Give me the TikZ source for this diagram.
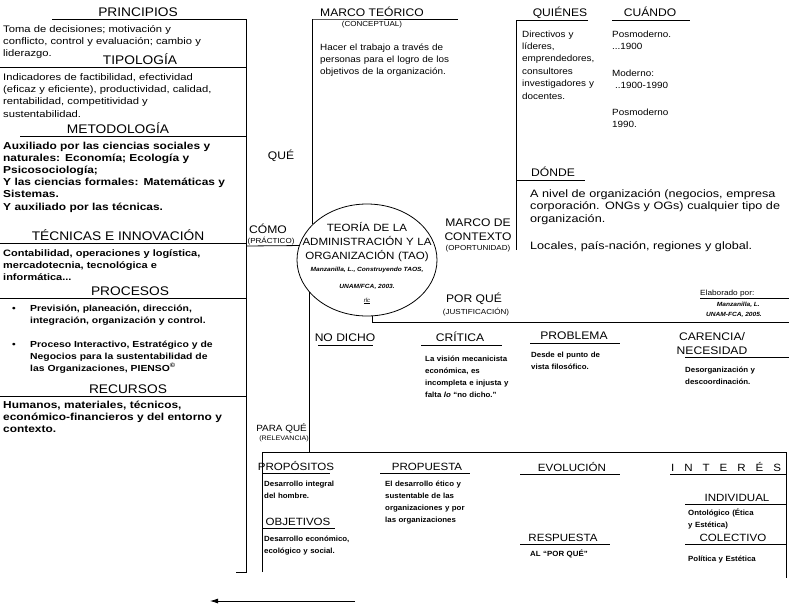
\documentclass[tikz,border=0pt]{standalone}
\usepackage{fontspec}
\setmainfont{Liberation Sans}
\newfontfamily\hdrfont[FakeStretch=1.1]{Liberation Sans}
\newfontfamily\bodyfont[FakeStretch=1.1]{Liberation Sans}
\newfontfamily\widefont[FakeStretch=1.18]{Liberation Sans}
\newfontfamily\lowfont[FakeStretch=1.05]{Liberation Sans}
\usetikzlibrary{shapes.geometric,arrows.meta}
\tikzset{
  hdr/.style={font=\hdrfont\fontsize{11}{13}\selectfont, inner sep=0pt, anchor=base},
  lhdr/.style={font=\hdrfont\fontsize{12.5}{14}\selectfont, inner sep=0pt, anchor=base},
  bhdr/.style={font=\hdrfont\fontsize{10.5}{13}\selectfont, inner sep=0pt, anchor=base},
  sub/.style={font=\hdrfont\fontsize{7.3}{8}\selectfont, inner sep=0pt, anchor=base},
  txt/.style={font=\bodyfont\fontsize{9}{12.4}\selectfont, align=left, text width=260pt, inner sep=0pt, anchor=base west},
  wtxt/.style={font=\widefont\fontsize{9.5}{12.4}\selectfont, align=left, text width=260pt, inner sep=0pt, anchor=base west},
  wbtxt/.style={font=\widefont\bfseries\fontsize{8.8}{12.2}\selectfont, align=left, text width=260pt, inner sep=0pt, anchor=base west},
  btxt/.style={font=\lowfont\bfseries\fontsize{7.5}{12.2}\selectfont, align=left, text width=260pt, inner sep=0pt, anchor=base west},
  cite/.style={font=\bodyfont\bfseries\itshape\fontsize{6}{8}\selectfont, inner sep=0pt, anchor=base},
  rule/.style={line width=0.8pt},
}
\begin{document}
\begin{tikzpicture}[x=1pt,y=-1pt]
\useasboundingbox (0,0) rectangle (789,613);
% ---------------- left column
\node[lhdr] (principios) at (138,16.5) {PRINCIPIOS};
\node[wtxt] (principiosT) at (3,32) {Toma de decisiones; motivación y\\conflicto, control y evaluación; cambio y\\liderazgo.};
\node[lhdr] (tipologia) at (140,64.5) {TIPOLOGÍA};
\node[wtxt] (tipologiaT) at (3,80) {Indicadores de factibilidad, efectividad\\(eficaz y eficiente), productividad, calidad,\\rentabilidad, competitividad y\\sustentabilidad.};
\node[lhdr] (metodologia) at (118,133.5) {METODOLOGÍA};
\node[wbtxt, font=\widefont\bfseries\fontsize{10.1}{12.2}\selectfont] (metodologiaT) at (3,149) {Auxiliado por las ciencias sociales y\\naturales: Economía; Ecología y\\Psicosociología;\\Y las ciencias formales: Matemáticas y\\Sistemas.\\Y auxiliado por las técnicas.};
\node[lhdr] (tecnicas) at (118,240.5) {TÉCNICAS E INNOVACIÓN};
\node[wbtxt, font=\widefont\bfseries\fontsize{9.3}{12.2}\selectfont] (tecnicasT) at (3,256) {Contabilidad, operaciones y logística,\\mercadotecnia, tecnológica e\\informática...};
\node[lhdr] (procesos) at (130,295.5) {PROCESOS};
\node[wbtxt, text width=20pt] (bulA) at (12,311) {\textbullet};
\node[wbtxt] (procA) at (30,311) {Previsión, planeación, dirección,\\integración, organización y control.};
\node[wbtxt, text width=20pt] (bulB) at (12,347) {\textbullet};
\node[wbtxt] (procB) at (30,347) {Proceso Interactivo, Estratégico y de\\Negocios para la sustentabilidad de\\las Organizaciones, PIENSO\textsuperscript{©}};
\node[lhdr] (recursos) at (128,393.5) {RECURSOS};
\node[wbtxt, font=\widefont\bfseries\fontsize{10.1}{12.2}\selectfont] (recursosT) at (3,408) {Humanos, materiales, técnicos,\\económico-financieros y del entorno y\\contexto.};
\draw[rule] (52,19) -- (246,19) -- (246,572) -- (236,572);
\draw[rule] (0,67) -- (246,67);
\draw[rule] (20,136) -- (246,136);
\draw[rule] (0,243) -- (246,243);
\draw[rule] (0,298) -- (246,298);
\draw[rule] (0,396) -- (246,396);
% ---------------- central ellipse
\node[draw, ellipse, rule, minimum width=140pt, minimum height=112pt, inner sep=0pt] (tao) at (367,260) {};
\node[font=\hdrfont\fontsize{10.5}{14}\selectfont, align=center, text width=150pt, inner sep=0pt, anchor=base] (taoT) at (367,231) {TEORÍA DE LA\\ADMINISTRACIÓN Y LA\\ORGANIZACIÓN (TAO)};
\node[cite] (citeA) at (367,271) {Manzanilla, L., Construyendo TAOS,};
\node[cite] (citeB) at (367,288) {UNAM/FCA, 2003.};
\node[font=\itshape\fontsize{6}{7}\selectfont, inner sep=0pt, anchor=base] (sig) at (367,302) {\underline{rlc}};
% CÓMO
\node[hdr] (como) at (268,233.5) {CÓMO};
\node[sub] (practico) at (271,243) {(PRÁCTICO)};
\draw[rule] (246,246) -- (tao.168);
% QUÉ / MARCO TEÓRICO
\node[hdr] (que) at (281,159.5) {QUÉ};
\node[hdr] (marcoT) at (372,16.5) {MARCO TEÓRICO};
\node[sub] (conceptual) at (372,26) {(CONCEPTUAL)};
\node[txt] (marcoTT) at (320,50) {\makebox[135pt][s]{Hacer el trabajo a través de}\\\makebox[135pt][s]{personas para el logro de los}\\objetivos de la organización.};
\draw[rule] (458,19) -- (312,19) -- (tao.147.5 |- 0,19) -- (tao.147.5);
% QUIÉNES / CUÁNDO / DÓNDE
\node[hdr] (quienes) at (560,16.5) {QUIÉNES};
\node[hdr] (cuando) at (650,16.5) {CUÁNDO};
\node[txt] (quienesT) at (522,37) {Directivos y\\líderes,\\emprendedores,\\consultores\\investigadores y\\docentes.};
\node[txt] (cuandoA) at (612,37) {Posmoderno.\\...1900};
\node[txt] (cuandoB) at (612,76) {Moderno:\\\ ..1900-1990};
\node[txt] (cuandoC) at (612,115) {Posmoderno\\1990.};
\node[hdr] (donde) at (553,176.5) {DÓNDE};
\node[wtxt, font=\widefont\fontsize{10.7}{12.5}\selectfont] (dondeT) at (530,197) {A nivel de organización (negocios, empresa\\corporación. ONGs y OGs) cualquier tipo de\\organización.};
\node[wtxt, font=\widefont\fontsize{10.7}{12.5}\selectfont] (dondeU) at (530,249) {Locales, país-nación, regiones y global.};
\draw[rule] (588,20) -- (516,20) -- (516,250);
\draw[rule] (612,20) -- (690,20);
\draw[rule] (516,180) -- (585,180);
% MARCO DE CONTEXTO
\node[hdr] (marcoC) at (478,226.5) {MARCO DE};
\node[hdr] (contexto) at (478,240.5) {CONTEXTO};
\node[sub] (oportunidad) at (478,250) {(OPORTUNIDAD)};
% POR QUÉ
\node[hdr] (porque) at (474,302.5) {POR QUÉ};
\node[sub] (justif) at (476,314) {(JUSTIFICACIÓN)};
\draw[rule] (tao.275) -- (tao.275 |- 0,322) -- (789,322);
\node[font=\bodyfont\fontsize{7.5}{9}\selectfont, inner sep=0pt, anchor=base west] (elab) at (700,295) {Elaborado por:};
\node[cite, anchor=base east] (elabA) at (760,306) {Manzanilla, L.};
\node[cite, anchor=base east] (elabB) at (762,316) {UNAM-FCA, 2005.};
\draw[rule] (700,298) -- (789,298);
% NO DICHO / CRÍTICA / PROBLEMA / CARENCIA
\node[hdr] (nodicho) at (345,341.5) {NO DICHO};
\node[hdr] (critica) at (460,341.5) {CRÍTICA};
\node[btxt] (criticaT) at (425,361) {La visión mecanicista\\económica, es\\incompleta e injusta y\\falta \textit{lo} “no dicho.”};
\node[hdr] (problema) at (574,339.5) {PROBLEMA};
\node[btxt] (problemaT) at (531,357) {Desde el punto de\\vista filosófico.};
\node[hdr] (carencia) at (712,340.5) {CARENCIA/};
\node[hdr] (necesidad) at (712,354.5) {NECESIDAD};
\node[btxt] (carenciaT) at (685,372) {Desorganización y\\descoordinación.};
\draw[rule] (318,345) -- (373,345);
\draw[rule] (421,345) -- (502,345);
\draw[rule] (530,343) -- (620,343);
\draw[rule] (685,357) -- (789,357);
% PARA QUÉ
\node[bhdr, font=\hdrfont\fontsize{9}{11}\selectfont, anchor=base east] (paraque) at (307,431.5) {PARA QUÉ};
\node[sub, font=\hdrfont\fontsize{6.5}{8}\selectfont, anchor=base east] (relevancia) at (309,440) {(RELEVANCIA)};
\draw[rule] (tao.209.7) -- (tao.209.7 |- 0,452);
\draw[rule] (262,572) -- (262,452) -- (786,452) -- (786,578);
% bottom box
\node[bhdr] (propositos) at (296,470.5) {PROPÓSITOS};
\node[btxt] (propositosT) at (264,486) {Desarrollo integral\\del hombre.};
\node[bhdr] (objetivos) at (298,525.5) {OBJETIVOS};
\node[btxt] (objetivosT) at (264,541) {Desarrollo económico,\\ecológico y social.};
\node[bhdr] (propuesta) at (427,470.5) {PROPUESTA};
\node[btxt] (propuestaT) at (385,486) {El desarrollo ético y\\sustentable de las\\organizaciones y por\\las organizaciones};
\node[bhdr] (evolucion) at (572,471.5) {EVOLUCIÓN};
\node[bhdr] (respuesta) at (563,541.5) {RESPUESTA};
\node[btxt] (respuestaT) at (530,556) {AL “POR QUÉ”};
\node[bhdr, anchor=base west] (interes) at (671,471.5) {\addfontfeature{LetterSpace=95}INTERÉS};
\node[bhdr] (individual) at (737,501.5) {INDIVIDUAL};
\node[btxt] (individualT) at (688,515) {Ontológico (Ética\\y Estética)};
\node[bhdr] (colectivo) at (733,541.5) {COLECTIVO};
\node[btxt] (colectivoT) at (688,561) {Política y Estética};
\draw[rule] (262,473) -- (330,473);
\draw[rule] (262,528) -- (335,528);
\draw[rule] (380,473) -- (470,473);
\draw[rule] (520,474) -- (620,474);
\draw[rule] (520,544) -- (610,544);
\draw[rule] (670,474) -- (786,474);
\draw[rule] (685,504) -- (786,504);
\draw[rule] (685,544) -- (786,544);
% arrow
\coordinate (arrS) at (355,601);
\coordinate (arrE) at (210,601);
\draw[rule, -{Latex[length=8pt,width=5pt]}] (arrS) -- (arrE);
\end{tikzpicture}
\end{document}
